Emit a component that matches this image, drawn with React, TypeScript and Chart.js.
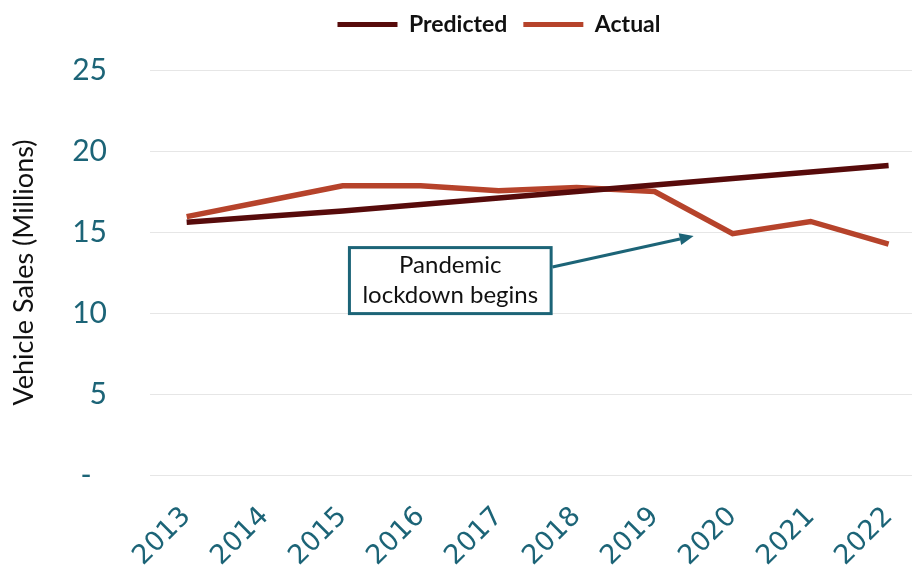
import { useEffect, useRef } from 'react';
import { Chart, registerables } from 'chart.js';

Chart.register(...registerables);

// Yearly US light-vehicle sales, millions of units
const years = [2013, 2014, 2015, 2016, 2017, 2018, 2019, 2020, 2021, 2022];
const predicted = [15.6, 15.95, 16.3, 16.7, 17.1, 17.5, 17.9, 18.3, 18.7, 19.1];
const actual = [15.95, 16.9, 17.85, 17.85, 17.55, 17.75, 17.5, 14.9, 15.65, 14.25];
const seriesNames = ['Predicted', 'Actual'];
const seriesColors = ['#570b0b', '#b6432b'];
const yTickStep = 5;
const yMax = 25;
const yAxisTitle = 'Vehicle Sales (Millions)';

// Callout text and where it sits (in data units)
const calloutLines = ['Pandemic', 'lockdown begins'];
const calloutCenter = { year: 2016.38, value: 12.0 };
const arrowTail = { year: 2017.69, value: 12.84 };
const arrowTip = { year: 2019.5, value: 14.75 };

const TEAL = '#1c6477';
const FONT = 'Lato';

// Nudge the legend row up and to the right of its default slot
const legendOffsetPlugin = {
  id: 'legendOffset',
  afterLayout(chart: any) {
    const lg = chart.legend;
    if (!lg) return;
    const dx = 43;
    const dy = -24;
    lg.left += dx;
    lg.right += dx;
    lg.top += dy;
    lg.bottom += dy;
  },
};

const calloutPlugin = {
  id: 'callout',
  afterDatasetsDraw(chart: any) {
    const { ctx } = chart;
    const xs = chart.scales.x;
    const ys = chart.scales.y;
    const cx = xs.getPixelForValue(calloutCenter.year);
    const cy = ys.getPixelForValue(calloutCenter.value);
    ctx.save();
    ctx.font = `24px ${FONT}`;
    const textW = Math.max(...calloutLines.map((l) => ctx.measureText(l).width));
    const lineH = 30;
    const boxW = textW + 26;
    const boxH = calloutLines.length * lineH + 6;
    const left = cx - boxW / 2;
    const top = cy - boxH / 2;

    // arrow
    const tx = xs.getPixelForValue(arrowTail.year);
    const ty = ys.getPixelForValue(arrowTail.value);
    const hx = xs.getPixelForValue(arrowTip.year);
    const hy = ys.getPixelForValue(arrowTip.value);
    const ang = Math.atan2(hy - ty, hx - tx);
    const headLen = 14;
    const headHalf = 6;
    const bx = hx - headLen * Math.cos(ang);
    const by = hy - headLen * Math.sin(ang);
    ctx.strokeStyle = TEAL;
    ctx.fillStyle = TEAL;
    ctx.lineWidth = 3;
    ctx.beginPath();
    ctx.moveTo(tx, ty);
    ctx.lineTo(bx, by);
    ctx.stroke();
    ctx.beginPath();
    ctx.moveTo(hx, hy);
    ctx.lineTo(bx + headHalf * Math.sin(ang), by - headHalf * Math.cos(ang));
    ctx.lineTo(bx - headHalf * Math.sin(ang), by + headHalf * Math.cos(ang));
    ctx.closePath();
    ctx.fill();

    // box
    ctx.fillStyle = '#ffffff';
    ctx.fillRect(left, top, boxW, boxH);
    ctx.lineWidth = 3;
    ctx.strokeStyle = TEAL;
    ctx.strokeRect(left, top, boxW, boxH);

    ctx.fillStyle = '#111111';
    ctx.textAlign = 'center';
    ctx.textBaseline = 'middle';
    calloutLines.forEach((line, i) => {
      ctx.fillText(line, cx, cy + (i - (calloutLines.length - 1) / 2) * lineH);
    });
    ctx.restore();
  },
};

export default function App() {
  const canvasRef = useRef<HTMLCanvasElement>(null);

  useEffect(() => {
    const canvas = canvasRef.current;
    if (!canvas) return;
    const chart = new Chart(canvas, {
      type: 'line',
      data: {
        datasets: [
          {
            label: seriesNames[0],
            data: years.map((yr, i) => ({ x: yr, y: predicted[i] })),
            borderColor: seriesColors[0],
            backgroundColor: seriesColors[0],
            borderWidth: 5.5,
            pointRadius: 0,
            tension: 0,
          },
          {
            label: seriesNames[1],
            data: years.map((yr, i) => ({ x: yr, y: actual[i] })),
            borderColor: seriesColors[1],
            backgroundColor: seriesColors[1],
            borderWidth: 5.5,
            pointRadius: 0,
            tension: 0,
          },
        ],
      },
      options: {
        animation: false,
        responsive: false,
        maintainAspectRatio: false,
        layout: { padding: { top: -12, right: 2, left: 0, bottom: 0 } },
        plugins: {
          tooltip: { enabled: false },
          legend: {
            position: 'top',
            labels: {
              boxWidth: 60,
              boxHeight: 5,
              padding: 16,
              color: '#111111',
              font: { family: FONT, size: 23, weight: 'bold' },
              generateLabels: (c: any) =>
                c.data.datasets.map((ds: any, i: number) => ({
                  text: ds.label,
                  fillStyle: ds.borderColor,
                  strokeStyle: ds.borderColor,
                  lineWidth: 0,
                  hidden: false,
                  datasetIndex: i,
                  fontColor: '#111111',
                })),
            },
          },
        },
        scales: {
          x: {
            type: 'linear',
            min: years[0] - 0.47,
            max: years[years.length - 1] + 0.3,
            grid: { display: false },
            border: { display: false },
            ticks: {
              stepSize: 1,
              includeBounds: false,
              autoSkip: false,
              minRotation: 45,
              maxRotation: 45,
              padding: 18,
              color: TEAL,
              font: { family: 'DejaVu Sans', size: 27 },
              callback: (v: any) => String(v),
            },
            afterFit: (s: any) => {
              s.height = 101;
              s.paddingLeft = 0;
              s.paddingRight = 0;
            },
          },
          y: {
            min: 0,
            max: yMax,
            grid: { color: '#e6e6e6', lineWidth: 1, drawTicks: false },
            border: { display: false },
            ticks: {
              stepSize: yTickStep,
              padding: 43,
              color: TEAL,
              font: { family: FONT, size: 30 },
              callback: (v: any) => (v === 0 ? '-  ' : String(v)),
            },
            title: {
              display: true,
              text: yAxisTitle,
              color: '#111111',
              font: { family: FONT, size: 27 },
              padding: { top: 8, bottom: 0 },
            },
            afterFit: (s: any) => {
              s.width = 150;
              s.paddingTop = 70;
              s.paddingBottom = 0;
            },
          },
        },
      },
      plugins: [legendOffsetPlugin, calloutPlugin],
    } as any);
    return () => chart.destroy();
  }, []);

  return (
    <div style={{ position: 'fixed', left: 0, top: 0, width: 914, height: 576, background: '#fff' }}>
      <canvas ref={canvasRef} width={914} height={576} />
    </div>
  );
}
